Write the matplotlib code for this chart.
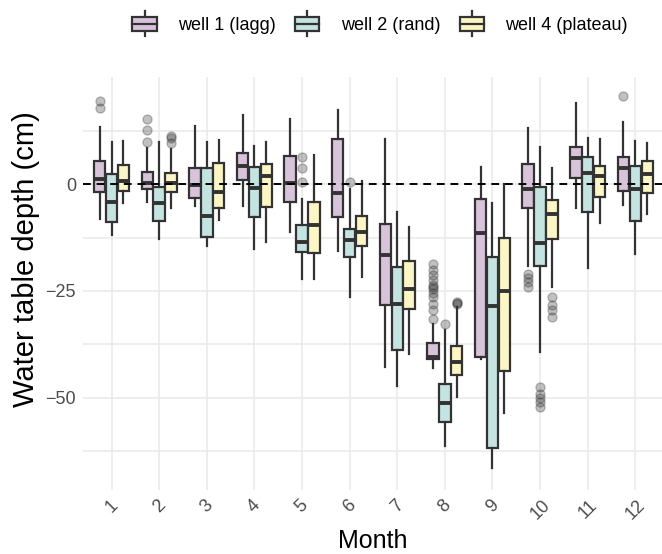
import numpy as np
import matplotlib
matplotlib.use("Agg")
import matplotlib.pyplot as plt
from matplotlib.patches import Rectangle
from matplotlib.lines import Line2D
from matplotlib.legend_handler import HandlerBase

plt.rcParams['font.family'] = ['Liberation Sans', 'DejaVu Sans']

months = [1, 2, 3, 4, 5, 6, 7, 8, 9, 10, 11, 12]
wells = ['well 1 (lagg)', 'well 2 (rand)', 'well 4 (plateau)']
colors = ['#D8C3DA', '#C4E4E2', '#FCF6C4']

# well 1 (lagg)
w1_hi = [13.4, 8.5, 13.6, 16.1, 15.2, 17.3, 10.4, -32.6, 3.9, 13.2, 19.0, 14.4]
w1_q3 = [5.4, 2.7, 3.7, 7.3, 6.5, 10.4, -9.4, -37.1, -3.6, 4.7, 8.7, 6.4]
w1_med = [1.1, 0.2, -0.2, 4.2, 0.3, -2.2, -16.7, -40.5, -11.4, -1.2, 6.0, 3.7]
w1_q1 = [-1.9, -1.2, -3.3, 0.9, -4.3, -7.6, -28.3, -41.0, -40.5, -5.5, 1.3, -1.6]
w1_lo = [-8.2, -4.3, -5.1, -5.1, -11.1, -15.7, -42.7, -43.1, -41.0, -19.1, -5.5, -4.9]
w1_out = {1: [19.5, 17.8], 2: [15.2, 12.6, 9.7],
          8: [-18.8, -20.0, -21.3, -22.5, -23.5, -24.0, -24.5, -25.5, -26.5, -28.0, -29.5, -31.6],
          10: [-21.0, -22.0, -23.0, -24.0], 12: [20.6]}

# well 2 (rand)
w2_hi = [9.7, 9.7, 9.7, 8.9, -3.6, -1.2, -6.5, -34.0, -4.4, 8.7, 10.7, 10.0]
w2_q3 = [2.3, -0.6, 3.7, 4.0, -9.6, -10.4, -19.5, -46.8, -17.1, -0.6, 6.4, 4.3]
w2_med = [-4.1, -4.5, -7.5, -1.0, -13.5, -13.1, -28.1, -51.2, -28.5, -13.9, 2.6, -1.2]
w2_q1 = [-8.8, -8.6, -12.3, -7.6, -16.0, -17.0, -38.8, -55.5, -61.8, -19.1, -6.5, -8.6]
w2_lo = [-11.8, -12.9, -14.6, -15.2, -22.2, -26.3, -47.2, -61.2, -66.4, -39.2, -19.7, -16.4]
w2_out = {5: [6.4, 3.8, 0.5], 6: [0.5], 8: [-32.7],
          10: [-47.5, -49.0, -50.0, -51.0, -52.0]}

# well 4 (plateau)
w4_hi = [10.0, 8.2, 10.3, 9.7, 6.8, 0.7, -10.1, -28.8, 0.0, 3.8, 10.4, 9.5]
w4_q3 = [4.4, 2.5, 4.8, 4.6, -4.3, -7.4, -17.9, -37.9, -12.7, -3.7, 4.3, 5.4]
w4_med = [0.8, 0.3, -1.8, 1.9, -9.6, -11.1, -24.6, -41.5, -25.0, -6.9, 1.9, 2.3]
w4_q1 = [-1.6, -1.9, -5.7, -5.4, -16.2, -14.6, -29.2, -44.6, -43.6, -12.9, -3.1, -2.2]
w4_lo = [-4.5, -5.7, -8.3, -13.5, -22.3, -21.7, -39.7, -49.8, -53.6, -24.0, -9.0, -6.9]
w4_out = {2: [11.3, 10.7, 9.5], 8: [-27.5, -27.8, -28.1],
          10: [-26.3, -28.3, -29.5, -31.0]}

series = [
    (w1_lo, w1_q1, w1_med, w1_q3, w1_hi, w1_out),
    (w2_lo, w2_q1, w2_med, w2_q3, w2_hi, w2_out),
    (w4_lo, w4_q1, w4_med, w4_q3, w4_hi, w4_out),
]

fig = plt.figure(figsize=(6.62, 5.54), dpi=100)
ax = fig.add_axes([0.1254, 0.1155, 0.8746, 0.7455])

edge = '#333333'
offsets = [-0.25, 0.0, 0.25]
for i, (lo, q1, med, q3, hi, out) in enumerate(series):
    stats = []
    for j, m in enumerate(months):
        stats.append(dict(whislo=lo[j], q1=q1[j], med=med[j], q3=q3[j],
                          whishi=hi[j], fliers=out.get(m, [])))
    pos = [m + offsets[i] for m in months]
    ax.bxp(stats, positions=pos, widths=0.24, patch_artist=True,
           showcaps=False, manage_ticks=False,
           boxprops=dict(facecolor=colors[i], edgecolor=edge, linewidth=1.6),
           medianprops=dict(color=edge, linewidth=2.8, solid_capstyle='butt'),
           whiskerprops=dict(color=edge, linewidth=1.6),
           flierprops=dict(marker='o', markersize=6.5, markerfacecolor='#333333',
                           markeredgecolor='#333333', alpha=0.3, linestyle='none'),
           zorder=3)

ax.axhline(0, color='black', linestyle=(0, (4, 3)), linewidth=1.4, zorder=4)

ax.set_xlim(0.4, 12.56)
ax.set_ylim(-71.5, 25)
ax.set_xticks(months)
ax.set_xticklabels([str(m) for m in months], rotation=45, ha='center')
ax.set_yticks([0, -25, -50])
ax.set_yticks([12.5, -12.5, -37.5, -62.5], minor=True)
ax.grid(True, which='major', color='#EBEBEB', linewidth=1.2, zorder=0)
ax.grid(True, which='minor', axis='y', color='#EBEBEB', linewidth=1.2, zorder=0)
ax.set_axisbelow(True)
ax.tick_params(which='both', length=0, labelsize=13, labelcolor='#4D4D4D', pad=5)
for s in ax.spines.values():
    s.set_visible(False)

ax.set_xlabel('Month', fontsize=18, labelpad=4)
ax.set_ylabel('Water table depth (cm)', fontsize=21)
ax.yaxis.set_label_coords(-0.074, 0.56)


class BoxKey(HandlerBase):
    def create_artists(self, legend, orig_handle, xdescent, ydescent, width,
                       height, fontsize, trans):
        x0, y0 = -xdescent, -ydescent
        cx = x0 + width / 2
        bw = width * 0.9
        bh = height * 0.72
        by = y0 + (height - bh) / 2
        arts = [
            Line2D([cx, cx], [y0 - 2, y0 + height + 2], color=edge, lw=1.6),
            Rectangle((cx - bw / 2, by), bw, bh, facecolor=orig_handle.get_facecolor(),
                      edgecolor=edge, lw=1.6),
            Line2D([cx - bw / 2, cx + bw / 2], [y0 + height / 2] * 2, color=edge, lw=1.6),
        ]
        for a in arts:
            a.set_transform(trans)
        return arts


handles = [Rectangle((0, 0), 1, 1, facecolor=c) for c in colors]
fig.legend(handles, wells, handler_map={Rectangle: BoxKey()},
           loc='center', bbox_to_anchor=(0.573, 0.957), ncol=3, frameon=False,
           fontsize=13, handlelength=1.5, handleheight=1.3, handletextpad=1.1,
           columnspacing=1.0)

fig.savefig('out.png', dpi=100)
